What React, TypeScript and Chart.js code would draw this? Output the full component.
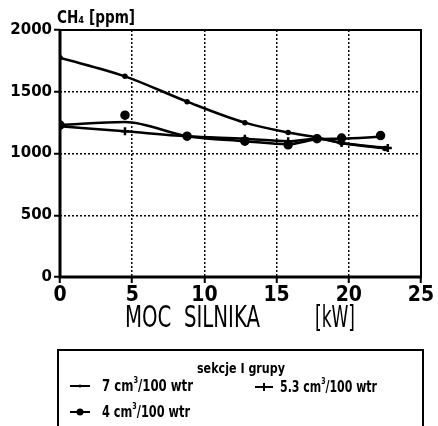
import React, { useEffect, useRef } from "react";
import { Chart, registerables } from "chart.js";
Chart.register(...registerables);

// ---- data ----
const xTickValues = [0, 5, 10, 15, 20, 25];
const yTickValues = [0, 500, 1000, 1500, 2000];

const power7 = [0, 4.5, 8.8, 12.8, 15.8, 17.8, 19.5, 22.5];
const ch4_7 = [1775, 1625, 1420, 1250, 1170, 1130, 1085, 1040];

const power53 = [0, 4.5, 8.8, 12.8, 15.8, 17.8, 19.5, 22.7];
const ch4_53 = [1220, 1180, 1140, 1120, 1100, 1120, 1085, 1045];

const power4 = [0, 4.5, 8.8, 12.8, 15.8, 17.8, 19.5, 22.2];
const ch4_4Curve = [1230, 1255, 1140, 1100, 1075, 1115, 1120, 1135];
const ch4_4Points = [1230, 1310, 1140, 1100, 1070, 1120, 1125, 1145];

const legendTitle = "sekcje I grupy";
const yTitle = "CH\u2084 [ppm]";
const xTitleLeft = "MOC  SILNIKA";
const xTitleRight = "[kW]";

const zip = (xs: number[], ys: number[]) => xs.map((x, i) => ({ x, y: ys[i] }));

function drawScaled(ctx: CanvasRenderingContext2D, text: string, x: number, y: number, width: number, font: string) {
  ctx.save();
  ctx.font = font;
  const w = ctx.measureText(text).width;
  ctx.translate(x, y);
  ctx.scale(width / w, 1);
  ctx.textAlign = "left";
  ctx.textBaseline = "middle";
  ctx.fillText(text, 0, 0);
  ctx.restore();
}

type Part = { t: string; sup?: boolean };
function drawRich(ctx: CanvasRenderingContext2D, parts: Part[], x: number, y: number, width: number, font: string, supFont: string) {
  ctx.save();
  let total = 0;
  const widths = parts.map((p) => {
    ctx.font = p.sup ? supFont : font;
    const w = ctx.measureText(p.t).width;
    total += w;
    return w;
  });
  const s = width / total;
  ctx.translate(x, y);
  ctx.scale(s, 1);
  ctx.textAlign = "left";
  ctx.textBaseline = "middle";
  let cx = 0;
  parts.forEach((p, i) => {
    ctx.font = p.sup ? supFont : font;
    ctx.fillText(p.t, cx, p.sup ? -6 : 0);
    cx += widths[i];
  });
  ctx.restore();
}

const decor = {
  id: "decor",
  afterDraw(chart: any) {
    const { ctx, chartArea: a } = chart;
    ctx.save();
    ctx.strokeStyle = "#000";
    ctx.fillStyle = "#000";
    ctx.setLineDash([]);
    // frame
    ctx.lineWidth = 2;
    ctx.beginPath();
    ctx.moveTo(a.left, a.top);
    ctx.lineTo(a.right, a.top);
    ctx.lineTo(a.right, a.bottom);
    ctx.stroke();
    ctx.lineWidth = 3;
    ctx.beginPath();
    ctx.moveTo(a.left, a.top - 1);
    ctx.lineTo(a.left, a.bottom);
    ctx.lineTo(a.right + 1, a.bottom);
    ctx.stroke();

    // y title
    drawScaled(ctx, yTitle, 57, 19, 78, "bold 17px 'Liberation Sans Narrow', 'DejaVu Sans Condensed', sans-serif");
    // x title
    drawScaled(ctx, xTitleLeft, 125, 319, 135, "30px 'Liberation Sans Narrow', 'DejaVu Sans Condensed', sans-serif");
    drawScaled(ctx, xTitleRight, 315, 319, 40, "30px 'Liberation Sans Narrow', 'DejaVu Sans Condensed', sans-serif");

    // legend box
    ctx.lineWidth = 2;
    ctx.beginPath();
    ctx.moveTo(58, 440);
    ctx.lineTo(58, 350);
    ctx.lineTo(423, 350);
    ctx.lineTo(423, 440);
    ctx.stroke();

    const lf = "bold 16px 'Liberation Sans Narrow', 'DejaVu Sans Condensed', sans-serif";
    const sf = "bold 9px 'Liberation Sans Narrow', 'DejaVu Sans Condensed', sans-serif";
    drawScaled(ctx, legendTitle, 197, 369, 88, "bold 14px 'Liberation Sans Narrow', 'DejaVu Sans Condensed', sans-serif");

    const entry = (x1: number, x2: number, y: number, marker: string) => {
      ctx.lineWidth = 2;
      ctx.beginPath();
      ctx.moveTo(x1, y);
      ctx.lineTo(x2, y);
      ctx.stroke();
      const mx = (x1 + x2) / 2;
      if (marker === "dot") {
        ctx.beginPath();
        ctx.arc(mx, y, 3.5, 0, Math.PI * 2);
        ctx.fill();
      } else if (marker === "small") {
        ctx.beginPath();
        ctx.arc(mx, y, 1.5, 0, Math.PI * 2);
        ctx.fill();
      } else if (marker === "cross") {
        ctx.beginPath();
        ctx.moveTo(mx, y - 4);
        ctx.lineTo(mx, y + 4);
        ctx.stroke();
      }
    };
    entry(70, 90, 386, "small");
    drawRich(ctx, [{ t: "7 cm" }, { t: "3", sup: true }, { t: "/100 wtr" }], 102, 387, 91, lf, sf);
    entry(255, 273, 387, "cross");
    drawRich(ctx, [{ t: "5.3 cm" }, { t: "3", sup: true }, { t: "/100 wtr" }], 280, 388, 97, lf, sf);
    entry(70, 90, 412, "dot");
    drawRich(ctx, [{ t: "4 cm" }, { t: "3", sup: true }, { t: "/100 wtr" }], 102, 413, 88, lf, sf);

    ctx.restore();
  },
};

export default function App() {
  const ref = useRef<HTMLCanvasElement>(null);
  useEffect(() => {
    if (!ref.current) return;
    const lineCommon = {
      borderColor: "#000",
      backgroundColor: "#000",
      borderWidth: 2.5,
      cubicInterpolationMode: "monotone" as const,
      pointBorderColor: "#000",
      pointBackgroundColor: "#000",
    };
    const gridOpts = {
      color: "#000",
      lineWidth: 1.5,
      tickLength: 6,
      tickColor: "#000",
      tickWidth: 2,
      tickBorderDash: [10, 0],
    };
    const chart = new Chart(ref.current, {
      type: "line",
      data: {
        datasets: [
          { ...lineCommon, label: "7 cm3/100 wtr", data: zip(power7, ch4_7), pointRadius: 1.5 },
          { ...lineCommon, label: "5.3 cm3/100 wtr", data: zip(power53, ch4_53), pointStyle: "cross", pointRadius: 4, pointBorderWidth: 2.5 },
          { ...lineCommon, label: "4 cm3/100 wtr", data: zip(power4, ch4_4Curve), pointRadius: 0 },
          { ...lineCommon, label: "4 cm3/100 wtr points", data: zip(power4, ch4_4Points), showLine: false, pointRadius: 3.5 },
        ],
      },
      options: {
        animation: false,
        responsive: false,
        events: [],
        layout: { padding: { left: 0, top: 30, right: 17, bottom: 119 } },
        plugins: { legend: { display: false }, tooltip: { enabled: false } },
        scales: {
          x: {
            type: "linear",
            min: 0,
            max: 25,
            afterBuildTicks: (s: any) => { s.ticks = xTickValues.map((v) => ({ value: v })); },
            afterFit: (s: any) => { s.height = 30; },
            ticks: {
              color: "#000",
              padding: 0,
              callback: (v: any) => String(v),
              font: { family: "'Liberation Sans Narrow', 'DejaVu Sans Condensed', sans-serif", size: 21, weight: "bold" },
            },
            grid: gridOpts,
            border: { display: false, dash: [2, 2] },
          },
          y: {
            type: "linear",
            min: 0,
            max: 2000,
            afterBuildTicks: (s: any) => { s.ticks = yTickValues.map((v) => ({ value: v })); },
            afterFit: (s: any) => { s.width = 60; },
            ticks: {
              color: "#000",
              padding: 2,
              callback: (v: any) => String(v),
              font: { family: "'DejaVu Sans', sans-serif", size: 15, weight: "bold" },
            },
            grid: gridOpts,
            border: { display: false, dash: [2, 2] },
          },
        },
      },
      plugins: [decor],
    });
    return () => chart.destroy();
  }, []);
  return (
    <div style={{ position: "fixed", left: 0, top: 0, width: 438, height: 426, background: "#fff" }}>
      <canvas ref={ref} width={438} height={426} />
    </div>
  );
}
